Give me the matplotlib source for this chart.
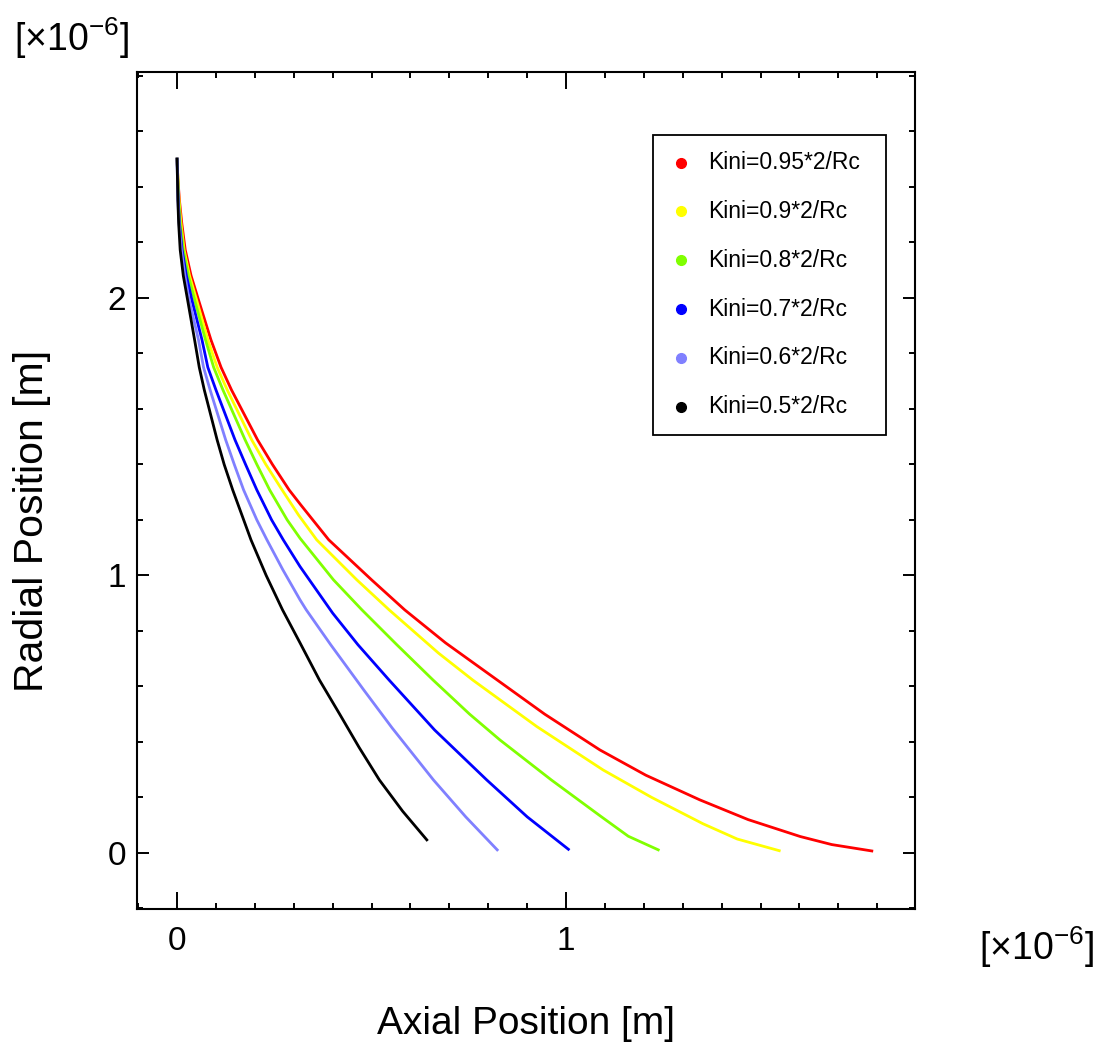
import numpy as np
import matplotlib
matplotlib.use('Agg')
import matplotlib.pyplot as plt
from matplotlib.patches import Rectangle
from matplotlib.ticker import MultipleLocator

plt.rcParams['font.family'] = ['Liberation Sans', 'DejaVu Sans']
plt.rcParams['mathtext.fontset'] = 'custom'
plt.rcParams['mathtext.rm'] = 'Liberation Sans'
plt.rcParams['mathtext.it'] = 'Liberation Sans'

# trajectories, both axes in units of 1e-6 m
labels = ['Kini=0.95*2/Rc', 'Kini=0.9*2/Rc', 'Kini=0.8*2/Rc',
          'Kini=0.7*2/Rc', 'Kini=0.6*2/Rc', 'Kini=0.5*2/Rc']
colors = ['#ff0000', '#ffff00', '#80ff00', '#0000ff', '#8080ff', '#000000']

y_095 = [2.5, 2.43, 2.353, 2.27, 2.173, 2.08, 1.993, 1.849, 1.75, 1.668, 1.488, 1.4, 1.308, 1.254, 1.128,
         0.984, 0.876, 0.757, 0.623, 0.5, 0.371, 0.28, 0.191, 0.12, 0.059, 0.03, 0.007]
x_095 = [0, 0.002, 0.006, 0.012, 0.021, 0.036, 0.055, 0.087, 0.113, 0.140, 0.207, 0.245, 0.288, 0.318, 0.390,
         0.500, 0.585, 0.690, 0.823, 0.945, 1.087, 1.205, 1.344, 1.468, 1.602, 1.683, 1.786]

y_090 = [2.5, 2.43, 2.353, 2.27, 2.173, 2.08, 1.993, 1.849, 1.75, 1.668, 1.488, 1.4, 1.308, 1.218, 1.128,
         0.984, 0.876, 0.72, 0.623, 0.455, 0.299, 0.2, 0.105, 0.05, 0.008]
x_090 = [0, 0.002, 0.005, 0.010, 0.018, 0.032, 0.050, 0.079, 0.103, 0.129, 0.192, 0.228, 0.270, 0.312, 0.359,
         0.462, 0.545, 0.672, 0.760, 0.925, 1.095, 1.22, 1.352, 1.44, 1.548]

y_080 = [2.5, 2.353, 2.27, 2.173, 2.08, 1.993, 1.849, 1.75, 1.668, 1.488, 1.4, 1.308, 1.2, 1.134,
         0.984, 0.876, 0.75, 0.623, 0.5, 0.407, 0.263, 0.131, 0.06, 0.011]
x_080 = [0, 0.004, 0.008, 0.016, 0.029, 0.045, 0.073, 0.094, 0.118, 0.175, 0.205, 0.238, 0.283, 0.316,
         0.402, 0.475, 0.565, 0.658, 0.752, 0.830, 0.962, 1.090, 1.16, 1.237]

y_070 = [2.5, 2.353, 2.27, 2.173, 2.08, 1.993, 1.849, 1.75, 1.668, 1.488, 1.4, 1.308, 1.2, 1.128, 1.032,
         0.864, 0.75, 0.623, 0.5, 0.443, 0.263, 0.13, 0.013]
x_070 = [0, 0.003, 0.006, 0.013, 0.024, 0.038, 0.064, 0.079, 0.100, 0.149, 0.176, 0.205, 0.243, 0.273, 0.316,
         0.400, 0.465, 0.545, 0.625, 0.662, 0.796, 0.90, 1.006]

y_060 = [2.5, 2.353, 2.27, 2.173, 2.08, 1.993, 1.849, 1.75, 1.668, 1.488, 1.4, 1.308, 1.2, 1.128, 1.02,
         0.912, 0.876, 0.75, 0.587, 0.45, 0.263, 0.13, 0.011]
x_060 = [0, 0.002, 0.005, 0.011, 0.020, 0.031, 0.055, 0.068, 0.085, 0.125, 0.147, 0.171, 0.205, 0.231, 0.272,
         0.316, 0.332, 0.395, 0.480, 0.553, 0.659, 0.742, 0.823]

y_050 = [2.5, 2.353, 2.27, 2.173, 2.08, 1.993, 1.849, 1.75, 1.668, 1.488, 1.4, 1.308, 1.128, 1.0,
         0.876, 0.757, 0.623, 0.5, 0.38, 0.263, 0.15, 0.047]
x_050 = [0, 0.002, 0.004, 0.008, 0.016, 0.027, 0.045, 0.057, 0.070, 0.103, 0.121, 0.143, 0.190, 0.229,
         0.271, 0.316, 0.366, 0.418, 0.468, 0.520, 0.580, 0.642]

xs = [x_095, x_090, x_080, x_070, x_060, x_050]
ys = [y_095, y_090, y_080, y_070, y_060, y_050]

fig = plt.figure(figsize=(11.04, 10.49), dpi=100)
ax = fig.add_axes([0.1241, 0.1335, 0.7047, 0.7979])

for x, y, c in zip(xs, ys, colors):
    ax.plot(x, y, color=c, lw=2.0, solid_joinstyle='round')

ax.set_xlim(-0.103, 1.897)
ax.set_ylim(-0.202, 2.814)

ax.xaxis.set_major_locator(MultipleLocator(1))
ax.xaxis.set_minor_locator(MultipleLocator(0.1))
ax.yaxis.set_major_locator(MultipleLocator(1))
ax.yaxis.set_minor_locator(MultipleLocator(0.2))
ax.xaxis.set_major_formatter(lambda v, p: '%d' % round(v))
ax.yaxis.set_major_formatter(lambda v, p: '%d' % round(v))

for s in ax.spines.values():
    s.set_linewidth(1.5)
ax.tick_params(which='both', direction='in', top=True, right=True, width=1.4, labelsize=24)
ax.tick_params(axis='x', which='major', length=12, pad=12)
ax.tick_params(axis='x', which='minor', length=4.6)
ax.tick_params(axis='y', which='major', length=8.5, pad=8)
ax.tick_params(axis='y', which='minor', length=4.6)

fig.text(0.4769, 0.007, 'Axial Position [m]', fontsize=28, ha='center', va='bottom')
fig.text(0.012, 0.503, 'Radial Position [m]', fontsize=29.5, rotation=90, ha='left', va='center')
fig.text(0.013, 0.942, r'[×10$^{-6}$]', fontsize=27, ha='left', va='bottom')
fig.text(0.887, 0.075, r'[×10$^{-6}$]', fontsize=27, ha='left', va='bottom')

# legend box drawn by hand to match the layout
ax.add_patch(Rectangle((0.6636, 0.5663), 0.2987, 0.3584, transform=ax.transAxes,
                       facecolor='white', edgecolor='black', lw=1.3, zorder=5))
for i, (lab, c) in enumerate(zip(labels, colors)):
    yy = 0.8916 - i * 0.0583
    ax.plot([0.6989], [yy], 'o', color=c, ms=7, transform=ax.transAxes, zorder=6)
    ax.text(0.7335, yy, lab, fontsize=16.5, va='center', ha='left', transform=ax.transAxes, zorder=6)

fig.savefig('out.png', dpi=100)
